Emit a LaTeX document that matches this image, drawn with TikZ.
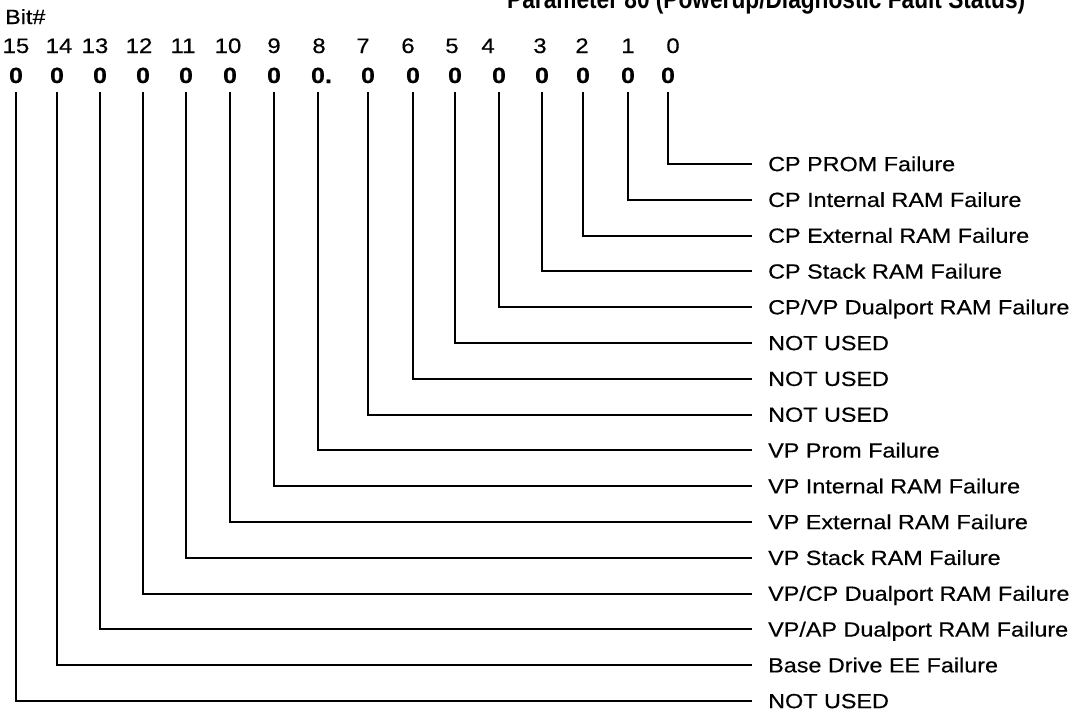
\documentclass[tikz,border=0pt]{standalone}
\usepackage{fontspec}
\setmainfont{Liberation Sans}[FakeStretch=1.14, FakeBold=0.4]
\newfontfamily\headfont{Liberation Sans}[FakeStretch=0.84]
\usetikzlibrary{positioning}
\tikzset{
  faultline/.style = {line width=2pt, black},
  bitnum/.style    = {anchor=base, inner sep=0pt, font=\fontsize{21}{24}\selectfont},
  bitval/.style    = {anchor=base, inner xsep=0pt, inner ysep=9pt,
                      font=\fontsize{22}{24}\selectfont\bfseries},
  faultlbl/.style  = {anchor=west, inner xsep=16pt, inner ysep=0pt,
                      text height=14.3pt, text depth=0pt,
                      font=\fontsize{20.5}{24}\selectfont},
}

\begin{document}
\begin{tikzpicture}[x=1pt, y=-1pt]
\useasboundingbox (0,0) rectangle (1081,713);

% ---- heading, cut off by the top edge ------------------------------------
\node[anchor=base west, inner sep=0pt,
      font=\headfont\bfseries\fontsize{27}{30}\selectfont] (title) at (507,8)
  {Parameter 80 (Powerup/Diagnostic Fault Status)};
\node[anchor=base west, inner sep=0pt, font=\fontsize{20.5}{22}\selectfont]
  (bithead) at (5,24) {Bit\#};

% ---- bit numbers and bit values -----------------------------------------
\foreach \b/\x/\dx in {15/16/16, 14/57/59, 13/100/95, 12/143/139, 11/186/183,
                       10/230/228, 9/274/274, 8/318/319, 7/368/363, 6/413/408,
                       5/455/452, 4/499/488, 3/542/540, 2/583/582, 1/628/628,
                       0/668/673} {
  \node[bitnum] (n\b) at (\dx,53) {\b};
  \node[bitval] (z\b) at (\x,83) {0\ifnum\b=8\rlap{.}\fi};
}

% ---- one fault text per bit ----------------------------------------------
\foreach \b/\txt in {0/CP PROM Failure, 1/CP Internal RAM Failure,
                     2/CP External RAM Failure, 3/CP Stack RAM Failure,
                     4/{CP/VP Dualport RAM Failure}, 5/NOT USED, 6/NOT USED,
                     7/NOT USED, 8/VP Prom Failure, 9/VP Internal RAM Failure,
                     10/VP External RAM Failure, 11/VP Stack RAM Failure,
                     12/{VP/CP Dualport RAM Failure},
                     13/{VP/AP Dualport RAM Failure},
                     14/Base Drive EE Failure, 15/NOT USED} {
  \node[faultlbl] (l\b) at (752,{164+35.8*\b}) {\txt};
  \draw[faultline] (z\b) |- (l\b);
}

\end{tikzpicture}
\end{document}
